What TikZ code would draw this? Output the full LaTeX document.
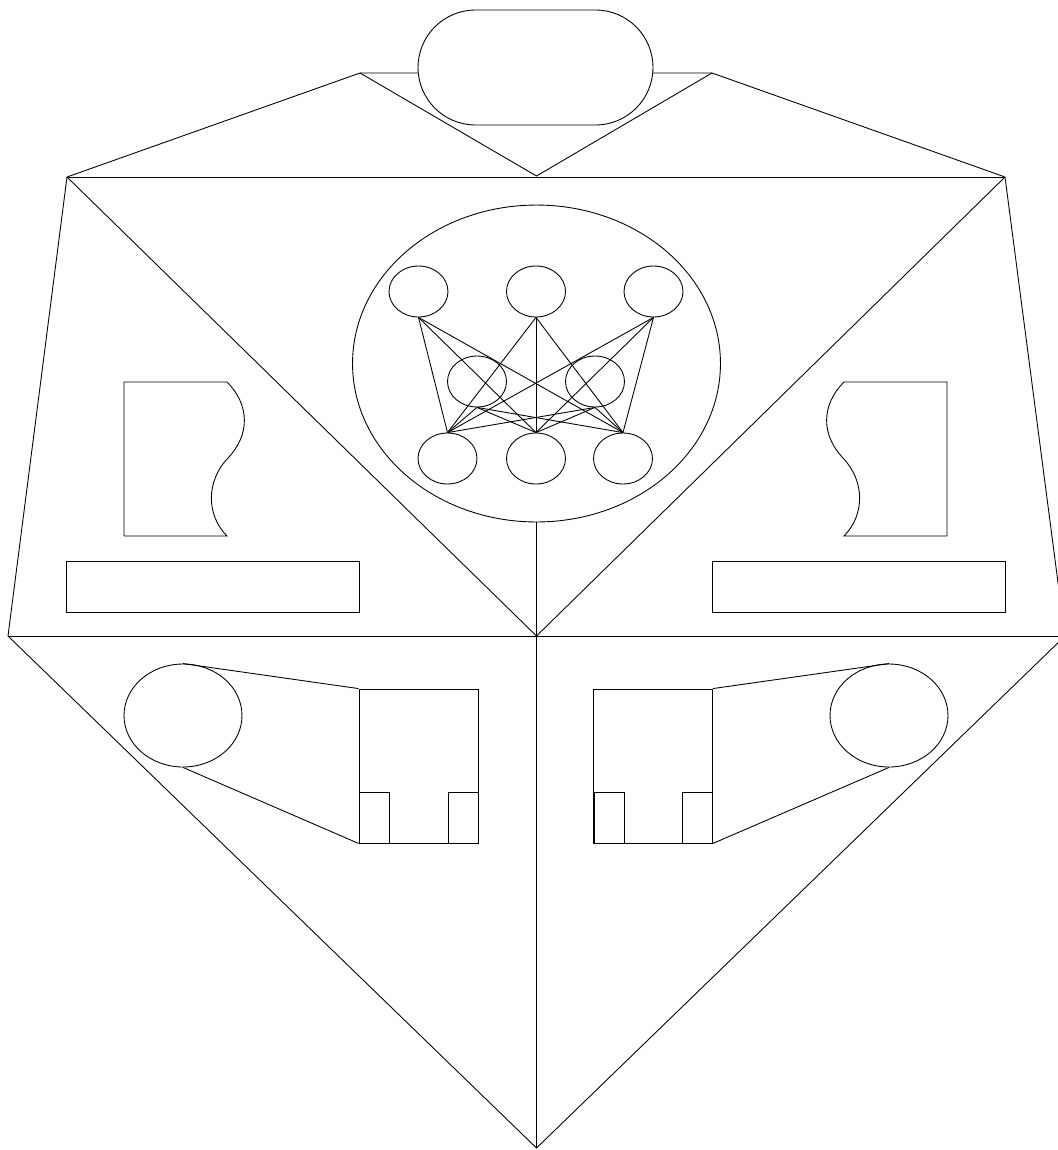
\documentclass[tikz,border=0pt]{standalone}
\usetikzlibrary{shapes.geometric,shapes.misc}
\tikzset{
  unit/.style={draw,ellipse,inner sep=0pt,minimum width=1.18cm,minimum height=1.02cm},
  box/.style={draw,rectangle,inner sep=0pt},
}
\begin{document}
\begin{tikzpicture}[x=0.02cm,y=-0.02cm,line width=0.5pt]
        \useasboundingbox (0,0) rectangle (1058,1150);
        \clip (0,0) rectangle (1058,1150);
        % outer frame
        \coordinate (A) at (360,73);  \coordinate (B) at (712,73);
        \coordinate (C) at (67,177);  \coordinate (D) at (1005,177);
        \coordinate (E) at (536.5,176); \coordinate (H) at (536.5,636);
        \coordinate (F) at (8,636);   \coordinate (G) at (1065,636);
        \coordinate (I) at (536.5,1148);
        \draw (C) -- (A) -- (B) -- (D);
        \draw (A) -- (E) -- (B);
        \draw (C) -- (D);
        \draw (C) -- (F) -- (I) -- (G) -- (D);
        \draw (F) -- (G);
        \draw (C) -- (H) -- (D);
        \node[draw,fill=white,rounded rectangle,inner sep=0pt,minimum width=4.7cm,minimum height=2.3cm] (head) at (535.5,67.5) {};
        % network
        \node[draw,ellipse,inner sep=0pt,minimum width=7.36cm,minimum height=6.34cm] (net) at (536.5,363.5) {};
        \draw (net.south) -- (I);
        \foreach \n/\x/\y in {t1/418.5/291.5, t2/536/291.5, t3/653.5/291.5, m1/477/381.5, m2/595/381.5, b1/447.5/458.5, b2/536/458.5, b3/623/458.5}{\node[unit] (\n) at (\x,\y) {};}
        \foreach \u in {t1,t2,t3,m1,m2}{
          \foreach \v in {b1,b2,b3}{\draw (\u.south) -- (\v.north);}}
        % documents and bars
        \draw (124,382) -- (227,382) .. controls (250,405) and (250,435) .. (228,458) .. controls (206,481) and (206,515) .. (227,536) -- (124,536) -- cycle;
        \draw (947,382) -- (844,382) .. controls (821,405) and (821,435) .. (843,458) .. controls (865,481) and (865,515) .. (844,536) -- (947,536) -- cycle;
        \node[box,minimum width=5.86cm,minimum height=1.02cm] (barL) at (212.5,586.5) {};
        \node[box,minimum width=5.86cm,minimum height=1.02cm] (barR) at (859,586.5) {};
        % lower units
        \foreach \s/\ex/\bx/\fa/\fb in {L/183/418.5/374/463, R/889/653/609/697.5}{
          \node[unit,minimum width=2.36cm,minimum height=2.06cm] (eye\s) at (\ex,715.5) {};
          \node[box,minimum width=2.38cm,minimum height=3.08cm] (body\s) at (\bx,766) {};
          \node[box,minimum width=0.6cm,minimum height=1.02cm] (foota\s) at (\fa,817.5) {};
          \node[box,minimum width=0.6cm,minimum height=1.02cm] (footb\s) at (\fb,817.5) {};}
        \draw (eyeL.north) -- (bodyL.north west);
        \draw (eyeL.south) -- (bodyL.south west);
        \draw (bodyR.north east) -- (eyeR.north);
        \draw (bodyR.south east) -- (eyeR.south);
      \end{tikzpicture}
\end{document}
